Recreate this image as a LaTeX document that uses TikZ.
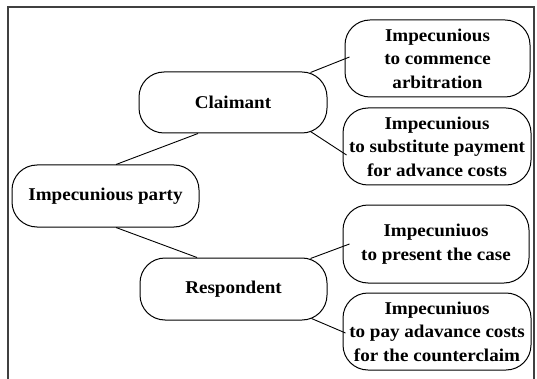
\documentclass[tikz,border=0pt]{standalone}
\usepackage{fontspec}
\setmainfont[FakeStretch=1.06]{Liberation Serif}
\usetikzlibrary{calc}
\begin{document}
\begin{tikzpicture}[x=1pt,y=-1pt,
 box/.style={draw, line width=1pt, rounded corners=25pt, align=center, inner sep=0pt,
   font=\fontsize{18}{23.5}\selectfont\bfseries},
 link/.style={line width=0.9pt}]
\useasboundingbox (0,0) rectangle (537,379);
\draw[line width=1.3pt, black!75] (8,379) -- (8,7) -- (534,7) -- (534,379);
\node[box, minimum width=188pt, minimum height=61pt] (claim) at (233,102.5) {Claimant};
\node[box, minimum width=187pt, minimum height=62pt] (party) at (105.5,196) {Impecunious party};
\node[box, minimum width=187pt, minimum height=62pt] (resp) at (233.5,289) {Respondent};
\node[box, minimum width=185pt, minimum height=77pt] (a) at (437.5,58.5) {Impecunious\\to commence\\arbitration};
\node[box, minimum width=188pt, minimum height=77pt] (b) at (437,146.5) {Impecunious\\to substitute payment\\for advance costs};
\node[box, minimum width=186pt, minimum height=78pt] (c) at (436,244) {Impecuniuos\\to present the case};
\node[box, minimum width=188pt, minimum height=77pt] (d) at (437,331.5) {Impecuniuos\\to pay adavance costs\\for the counterclaim};
\draw[link] ($(claim.north east)+(-17,1)$) -- ($(a.west)+(5,-1.5)$);
\draw[link] ($(claim.south east)+(-17,-2)$) -- ($(b.west)+(4,8.5)$);
\draw[link] ($(claim.south)+(-35,0)$) -- ($(party.north)+(10.5,0)$);
\draw[link] ($(party.south)+(10.5,0)$) -- ($(resp.north)+(-36.5,0)$);
\draw[link] ($(resp.north east)+(-17,1)$) -- ($(c.west)+(7,0)$);
\draw[link] ($(resp.south east)+(-16,-2)$) -- ($(d.west)+(3,1.5)$);
\end{tikzpicture}
\end{document}
